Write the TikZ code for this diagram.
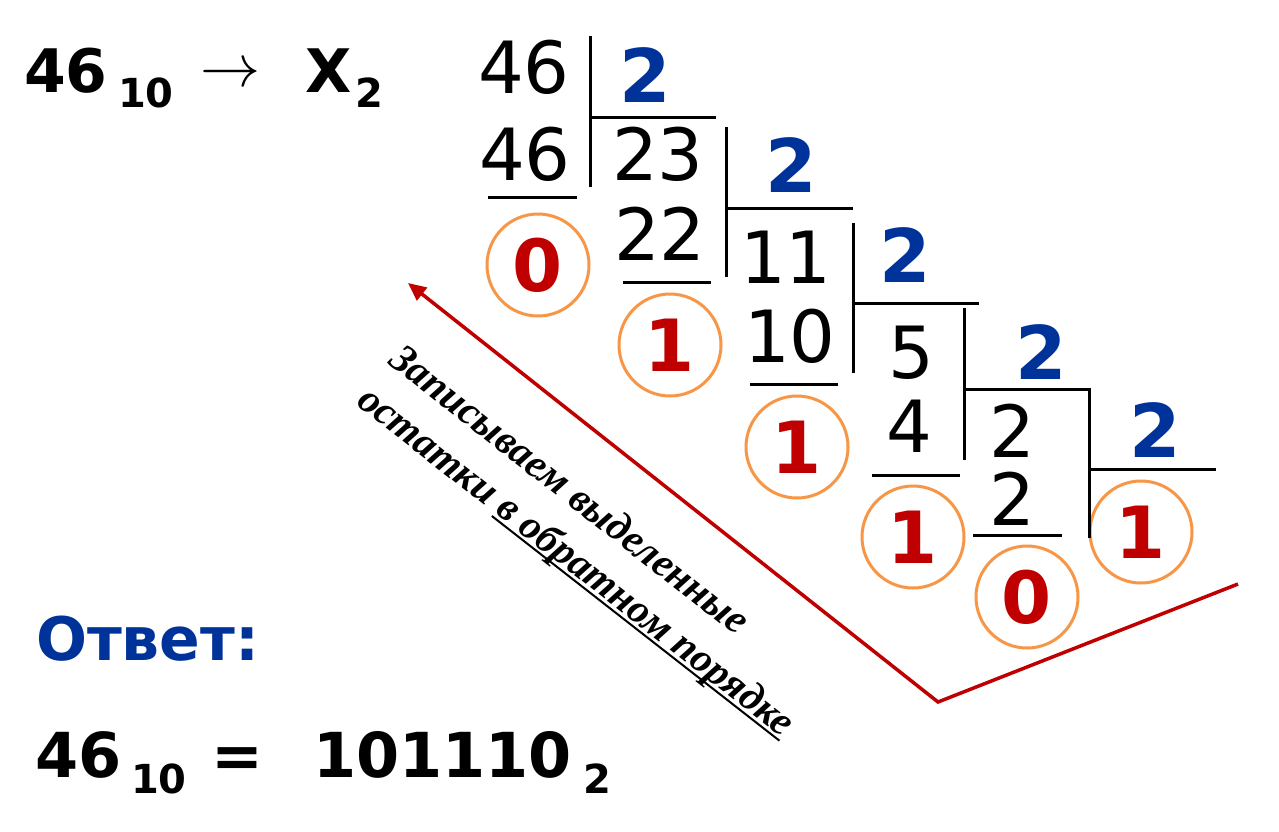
\documentclass[tikz,border=0pt]{standalone}
\usepackage{fontspec}
\usepackage{graphicx}
\setmainfont{DejaVu Sans}
\newfontfamily\serifit{Liberation Serif}
\usetikzlibrary{arrows.meta}
\definecolor{myblue}{HTML}{003399}
\definecolor{myred}{HTML}{C00000}
\definecolor{myorange}{HTML}{F79646}
\newcommand{\ulbox}[1]{\setbox0\hbox{#1}\rlap{\rule[-5pt]{\wd0}{2pt}}\box0}
\tikzset{
  num/.style={font=\fontsize{72}{80}\selectfont, inner sep=0pt, outer sep=0pt, anchor=base},
  dvs/.style={font=\bfseries\fontsize{74}{80}\selectfont, text=myblue, inner sep=0pt, outer sep=0pt, anchor=base},
  rem/.style={circle, draw=myorange, line width=3pt, minimum size=102pt, inner sep=0pt,
              font=\bfseries\fontsize{72}{80}\selectfont, text=myred},
  dline/.style={line width=3pt, black},
  redline/.style={line width=3.5pt, myred, line join=miter},
  big/.style={font=\bfseries\fontsize{#1}{#1}\selectfont, inner sep=0pt, outer sep=0pt, anchor=base west},
  rot/.style={font=\serifit\bfseries\itshape\fontsize{41}{48}\selectfont, rotate=-38, inner sep=0pt, outer sep=0pt, anchor=base west},
}
\begin{document}
\begin{tikzpicture}[x=1pt,y=-1pt]
\fill[white] (0,0) rectangle (1279,831);
\useasboundingbox (0,0) rectangle (1279,831);

% heading
\node[big=60] (h46) at (24,92) {46};
\node[big=40] (h10) at (118,107) {10};
\node[inner sep=0pt, outer sep=0pt] (harr) at (230,75) {\scalebox{6}{$\rightarrow$}};
\node[big=60] (hX) at (305,92) {X};
\node[big=40] (h2) at (355,107) {2};

% division
\node[num] (n46a) at (524,93) {46};
\node[dvs] (d1) at (645,102) {2};
\node[num] (n46b) at (525,180) {46};
\node[num] (n23) at (658,180) {23};
\node[num] (n22) at (660,260) {22};
\node[dvs] (d2) at (791,192) {2};
\node[num] (n11) at (786,283) {11};
\node[num] (n10) at (790,362) {10};
\node[dvs] (d3) at (905,282) {2};
\node[num] (n5) at (911,378) {5};
\node[num] (n4) at (909,452) {4};
\node[dvs] (d4) at (1041,379) {2};
\node[num] (n2a) at (1012,457) {2};
\node[num] (n2b) at (1012,525) {2};
\node[dvs] (d5) at (1155,457) {2};

\node[rem] (r0) at (538,265) {0};
\node[rem] (r1) at (670,345) {1};
\node[rem] (r2) at (797,447) {1};
\node[rem] (r3) at (913,537) {1};
\node[rem] (r4) at (1027,597) {0};
\node[rem] (r5) at (1141,532) {1};

% division lines
\draw[dline] (590,36) -- (590,187);
\draw[dline] (590,117) -- (716,117);
\draw[dline] (488,197) -- (577,197);
\draw[dline] (726,127) -- (726,277);
\draw[dline] (726,208) -- (853,208);
\draw[dline] (623,282) -- (711,282);
\draw[dline] (853,223) -- (853,373);
\draw[dline] (853,303) -- (979,303);
\draw[dline] (750,384) -- (838,384);
\draw[dline] (964,308) -- (964,460);
\draw[dline] (964,389) -- (1091,389);
\draw[dline] (872,475) -- (960,475);
\draw[dline] (1089,389) -- (1089,538);
\draw[dline] (1089,469) -- (1216,469);
\draw[dline] (973,535) -- (1062,535);

% red arrow
\coordinate (arrtip) at (408,283);
\coordinate (vtip) at (938,702);
\coordinate (rend) at (1238,584);
\draw[redline, {Triangle[length=18pt,width=16pt]}-] (arrtip) -- (vtip) -- (rend);

% rotated text
\node[rot] (t1) at (387,363) {Записываем выделенные};
\node[rot] (t2) at (355,404) {остатки \ulbox{в обратном порядке}};

% answer
\node[big=60, text=myblue] (ans) at (36,660) {Ответ:};
\node[big=62] (b46) at (35,777) {46};
\node[big=40] (b10) at (131,793) {10};
\node[big=62, anchor=base] (beq) at (237,777) {=};
\node[big=62] (bres) at (313,777) {101110};
\node[big=40] (bsub) at (583,793) {2};
\end{tikzpicture}
\end{document}
